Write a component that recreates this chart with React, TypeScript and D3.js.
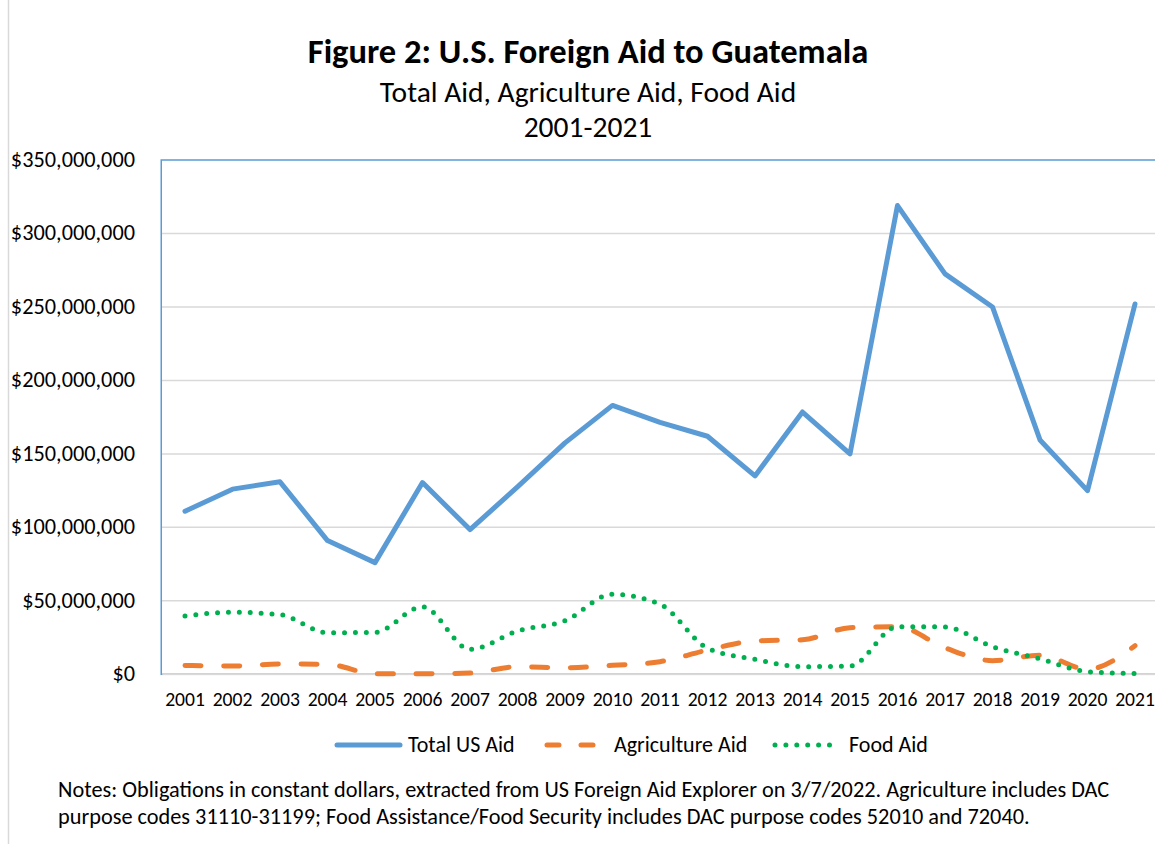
import React from "react";
import * as d3 from "d3";

// values in millions of US dollars (constant)
const years = [
  "2001", "2002", "2003", "2004", "2005", "2006", "2007", "2008", "2009", "2010", "2011",
  "2012", "2013", "2014", "2015", "2016", "2017", "2018", "2019", "2020", "2021",
];
const totalAid = [111, 126, 131, 91, 76, 130.5, 98.5, 127.5, 157.5, 183, 171.5, 162, 135, 178.5, 150, 319, 272.5, 250, 159.5, 125, 252];
const agricultureAid = [6, 5.6, 7, 6.8, 0.3, 0.3, 0.8, 5.2, 4.5, 6.1, 8.6, 16.5, 22.7, 23.5, 31.7, 32.4, 18, 9.3, 13, 3.5, 19.5];
const foodAid = [39.7, 42.2, 40.6, 28.3, 28.5, 46, 17, 29.5, 36.5, 54.5, 47.7, 17.7, 10.2, 5.2, 5.6, 32.4, 32.2, 18.8, 10.5, 1.8, 0.5];
const yTicks = [0, 50, 100, 150, 200, 250, 300, 350];

const FONT = "Carlito, Lato, 'Open Sans', sans-serif";
const BLUE = "#5b9bd5";
const ORANGE = "#ed7d31";
const GREEN = "#00b050";
const GRID = "#d9d9d9";

const W = 1155;
const H = 844;
const plot = { left: 161.25, right: 1158.75, top: 160, bottom: 674.3 };

export default function App() {
  const x = d3.scalePoint<string>().domain(years).range([plot.left, plot.right]).padding(0.5);
  const y = d3.scaleLinear().domain([0, 350]).range([plot.bottom, plot.top]);
  const fmt = (v: number) => d3.format("$,")(v * 1e6);

  const straight = d3.line<number>().x((_, i) => x(years[i])!).y((d) => y(d));
  const smooth = d3
    .line<number>()
    .x((_, i) => x(years[i])!)
    .y((d) => y(d))
    .curve(d3.curveMonotoneX);

  return (
    <svg width={W} height={H} style={{ position: "absolute", left: 0, top: 0, background: "#fff" }} fontFamily={FONT}>
      <rect x={8.5} y={-2} width={1200} height={H + 4} fill="#fff" stroke={GRID} strokeWidth={1.5} />

      <text x={588} y={63} textAnchor="middle" fontSize={34.5} fontWeight="bold" fill="#000">
        Figure 2: U.S. Foreign Aid to Guatemala
      </text>
      <text x={588} y={102} textAnchor="middle" fontSize={29.5} fill="#000">
        Total Aid, Agriculture Aid, Food Aid
      </text>
      <text x={588} y={137} textAnchor="middle" fontSize={29.5} fill="#000">
        2001-2021
      </text>

      {/* gridlines + y labels */}
      {yTicks.map((t) => (
        <g key={t}>
          {t > 0 && t < 350 && (
            <line x1={plot.left} x2={plot.right} y1={y(t)} y2={y(t)} stroke={GRID} strokeWidth={1.5} />
          )}
          <text x={135} y={y(t) + 7} textAnchor="end" fontSize={22.3} fill="#000">
            {fmt(t)}
          </text>
        </g>
      ))}
      <rect
        x={plot.left}
        y={plot.top}
        width={plot.right - plot.left}
        height={plot.bottom - plot.top}
        fill="none"
        stroke={BLUE}
        strokeWidth={1.5}
      />
      <line x1={plot.left + 1} x2={plot.right} y1={y(0)} y2={y(0)} stroke={GRID} strokeWidth={1.5} />

      {years.map((yr) => (
        <text key={yr} x={x(yr)} y={706} textAnchor="middle" fontSize={19.6} fill="#000">
          {yr}
        </text>
      ))}

      <path d={straight(totalAid)!} fill="none" stroke={BLUE} strokeWidth={5} strokeLinejoin="round" strokeLinecap="round" />
      <path
        d={smooth(agricultureAid)!}
        fill="none"
        stroke={ORANGE}
        strokeWidth={5}
        strokeDasharray="16 22.7"
        strokeLinecap="round"
      />
      <path
        d={smooth(foodAid)!}
        fill="none"
        stroke={GREEN}
        strokeWidth={5}
        strokeDasharray="0 10.9"
        strokeLinecap="round"
      />

      {/* legend */}
      <g fontSize={22} fill="#000">
        <line x1={337} x2={400} y1={745} y2={745} stroke={BLUE} strokeWidth={5} strokeLinecap="round" />
        <text x={408} y={752}>Total US Aid</text>
        <line x1={547} x2={600} y1={745} y2={745} stroke={ORANGE} strokeWidth={5} strokeDasharray="12 22" strokeLinecap="round" />
        <text x={614} y={752}>Agriculture Aid</text>
        <line x1={775} x2={833} y1={745} y2={745} stroke={GREEN} strokeWidth={5} strokeDasharray="0 10.9" strokeLinecap="round" />
        <text x={849} y={752}>Food Aid</text>
      </g>

      <g fontSize={22.3} fill="#000">
        <text x={58} y={797}>
          Notes: Obligations in constant dollars, extracted from US Foreign Aid Explorer on 3/7/2022. Agriculture includes DAC
        </text>
        <text x={58} y={824}>
          purpose codes 31110-31199; Food Assistance/Food Security includes DAC purpose codes 52010 and 72040.
        </text>
      </g>
    </svg>
  );
}
